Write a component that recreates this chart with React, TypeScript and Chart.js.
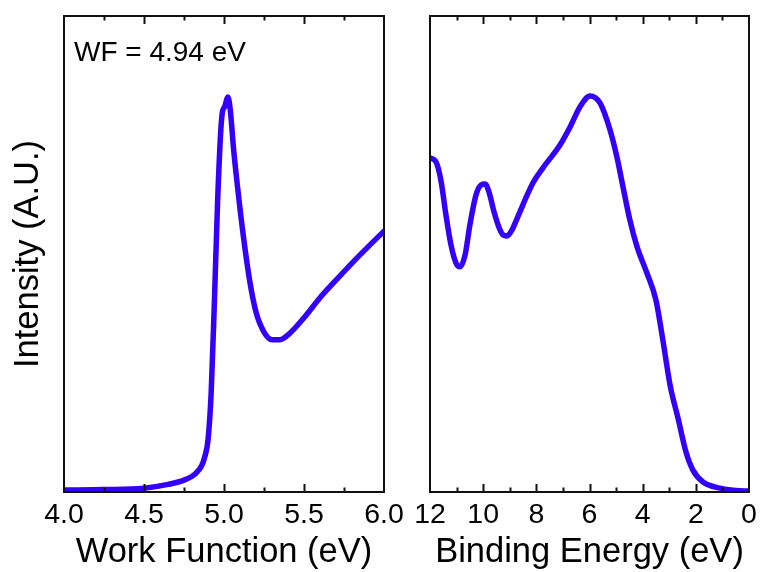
import React, { useEffect, useRef } from "react";
import { Chart, registerables } from "chart.js";

Chart.register(...registerables);

// Work function spectrum (left panel)
const wfX = [4.0, 4.25, 4.5, 4.65, 4.75, 4.82, 4.86, 4.88, 4.9, 4.92, 4.94, 4.96, 4.98, 4.99, 5.005, 5.025, 5.04, 5.06, 5.08, 5.12, 5.16, 5.2, 5.25, 5.3, 5.35, 5.4, 5.5, 5.6, 5.7, 5.8, 5.9, 6.0];
const wfY = [0.4, 0.5, 0.8, 1.6, 2.5, 3.8, 5.5, 7.4, 10.9, 21, 40, 61, 76, 79.8, 81, 83, 80, 72, 65.5, 54, 44.5, 37.8, 33.6, 32, 32, 33, 36.6, 40.8, 44.5, 48.1, 51.5, 54.8];

// Valence band spectrum (right panel)
const beX = [12.0, 11.77, 11.59, 11.4, 11.21, 11.02, 10.87, 10.68, 10.5, 10.27, 10.08, 9.93, 9.78, 9.59, 9.4, 9.25, 9.1, 8.92, 8.73, 8.13, 7.75, 7.11, 6.73, 6.36, 5.98, 5.6, 5.23, 4.97, 4.74, 4.48, 4.21, 3.84, 3.5, 3.24, 2.97, 2.67, 2.37, 2.11, 1.73, 1.09, 0.5, 0.0];
const beY = [70.2, 69.3, 65.5, 58.2, 51.9, 48.1, 47.3, 49.8, 56.1, 62.4, 64.5, 64.7, 63.0, 58.8, 55.5, 54.0, 53.8, 55.0, 57.4, 64.9, 68.1, 72.9, 76.7, 80.9, 83.2, 81.7, 76.1, 70.4, 64.1, 57.1, 51.5, 46.0, 40.3, 31.9, 22.5, 15.5, 8.4, 4.6, 2.1, 0.8, 0.3, 0.2];

const wfLeftTicks = { min: 4.0, max: 6.0, major: 0.5, minor: 0.25 };
const beTicks = { min: 0, max: 12, major: 2, minor: 1 };
const annotationText = "WF = 4.94 eV";
const annotationAt = { x: 4.0625, y: 92.2 };

const FONT = "'Liberation Sans', Arial, Helvetica, sans-serif";
const LINE = "#3300ff";

function framePlugin(cfg: { min: number; max: number; minor: number; major: number }, note?: boolean) {
  return {
    id: "frame",
    afterDraw(chart: any) {
      const { ctx, chartArea } = chart;
      const xs = chart.scales.x;
      ctx.save();
      ctx.strokeStyle = "#111";
      ctx.lineWidth = 2;
      ctx.strokeRect(chartArea.left, chartArea.top, chartArea.right - chartArea.left, chartArea.bottom - chartArea.top);
      const n = Math.round((cfg.max - cfg.min) / cfg.minor);
      for (let i = 1; i < n; i++) {
        const v = cfg.min + i * cfg.minor;
        const isMajor = Math.abs(v / cfg.major - Math.round(v / cfg.major)) < 1e-6;
        const len = isMajor ? 8 : 4.5;
        const px = Math.round(xs.getPixelForValue(v)) + 0.5;
        ctx.beginPath();
        ctx.moveTo(px, chartArea.top);
        ctx.lineTo(px, chartArea.top + len);
        ctx.moveTo(px, chartArea.bottom);
        ctx.lineTo(px, chartArea.bottom - len);
        ctx.stroke();
      }
      if (note) {
        const ys = chart.scales.y;
        ctx.fillStyle = "#000";
        ctx.font = `28px ${FONT}`;
        ctx.textAlign = "left";
        ctx.textBaseline = "middle";
        ctx.fillText(annotationText, xs.getPixelForValue(annotationAt.x), ys.getPixelForValue(annotationAt.y));
      }
      ctx.restore();
    },
  };
}

function xAfterFit(scale: any) {
  scale.height = 80;
  scale.paddingLeft = 0;
  scale.paddingRight = 0;
}

export default function App() {
  const leftRef = useRef<HTMLCanvasElement>(null);
  const rightRef = useRef<HTMLCanvasElement>(null);

  useEffect(() => {
    document.body.style.margin = "0";
    const left = new Chart(leftRef.current!, {
      type: "scatter",
      data: {
        datasets: [
          {
            data: wfX.map((x, i) => ({ x, y: wfY[i] })),
            showLine: true,
            borderColor: LINE,
            borderWidth: 5.5,
            pointRadius: 0,
            cubicInterpolationMode: "monotone",
            borderCapStyle: "round",
            borderJoinStyle: "round",
          } as any,
        ],
      },
      options: {
        animation: false,
        responsive: false,
        devicePixelRatio: 1,
        layout: { padding: { left: 0, top: 16, right: 376, bottom: 0 } },
        plugins: { legend: { display: false }, tooltip: { enabled: false } },
        scales: {
          x: {
            type: "linear",
            min: wfLeftTicks.min,
            max: wfLeftTicks.max,
            grid: { display: false },
            border: { display: false },
            afterFit: xAfterFit,
            ticks: {
              stepSize: wfLeftTicks.major,
              color: "#000",
              padding: -2,
              maxRotation: 0,
              font: { family: FONT, size: 28.5 },
              callback: (v: any) => Number(v).toFixed(1),
            },
            title: {
              display: true,
              text: "Work Function (eV)",
              color: "#000",
              font: { family: FONT, size: 34.5 },
              padding: { top: 0, bottom: -1 },
            },
          },
          y: {
            min: 0,
            max: 100,
            grid: { display: false },
            border: { display: false },
            ticks: { display: false },
            afterFit: (s: any) => {
              s.width = 64;
            },
            title: {
              display: true,
              text: "Intensity (A.U.)",
              color: "#000",
              font: { family: FONT, size: 34.5 },
              padding: { top: 8, bottom: 0 },
            },
          },
        },
      },
      plugins: [framePlugin(wfLeftTicks, true)],
    });

    const right = new Chart(rightRef.current!, {
      type: "scatter",
      data: {
        datasets: [
          {
            data: beX.map((x, i) => ({ x, y: beY[i] })),
            showLine: true,
            borderColor: LINE,
            borderWidth: 5.5,
            pointRadius: 0,
            cubicInterpolationMode: "monotone",
            borderCapStyle: "round",
            borderJoinStyle: "round",
          } as any,
        ],
      },
      options: {
        animation: false,
        responsive: false,
        devicePixelRatio: 1,
        layout: { padding: { left: 430, top: 16, right: 11, bottom: 0 } },
        plugins: { legend: { display: false }, tooltip: { enabled: false } },
        scales: {
          x: {
            type: "linear",
            reverse: true,
            min: beTicks.min,
            max: beTicks.max,
            grid: { display: false },
            border: { display: false },
            afterFit: xAfterFit,
            ticks: {
              stepSize: beTicks.major,
              color: "#000",
              padding: -2,
              maxRotation: 0,
              font: { family: FONT, size: 28.5 },
            },
            title: {
              display: true,
              text: "Binding Energy (eV)",
              color: "#000",
              font: { family: FONT, size: 34.5 },
              padding: { top: 0, bottom: -1 },
            },
          },
          y: { display: false, min: 0, max: 100 },
        },
      },
      plugins: [framePlugin(beTicks, false)],
    });

    return () => {
      left.destroy();
      right.destroy();
    };
  }, []);

  const cs: React.CSSProperties = { position: "absolute", left: 0, top: 0 };
  return (
    <div style={{ position: "fixed", left: 0, top: 0, width: 760, height: 572, background: "#fff" }}>
      <canvas ref={leftRef} width={760} height={572} style={cs} />
      <canvas ref={rightRef} width={760} height={572} style={cs} />
    </div>
  );
}
